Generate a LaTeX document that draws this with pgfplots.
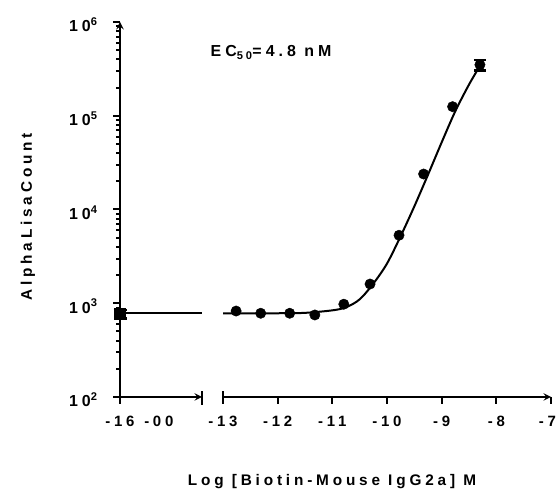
\documentclass[border=0pt]{standalone}
\usepackage{fontspec}
\setmainfont{Liberation Sans}[LetterSpace=25]
\usepackage{pgfplots}
\usepackage{pgfplotstable}
\pgfplotsset{compat=1.18}

% measured points (log M, counts)
\pgfplotstableread{
x y
-12.76 826
-12.31 782
-11.78 782
-11.32 750
-10.79 977
-10.31 1603
-9.78 5310
-9.33 23900
-8.80 125000
}\pts

% fitted curve
\pgfplotstableread{
x y
-13.00 780
-12.50 780
-12.00 782
-11.50 790
-11.00 840
-10.75 905
-10.50 1100
-10.25 1620
-10.00 2650
-9.75 5200
-9.50 10800
-9.25 23500
-9.00 52000
-8.75 112000
-8.50 215000
-8.30 340000
}\fit

\begin{document}
\begin{tikzpicture}
\useasboundingbox (0bp,0bp) rectangle (557bp,489bp);
\pgfplotsset{
  every axis/.append style={
    scale only axis, ymode=log, ymin=100, ymax=1e6, height=375bp,
    axis line style={line width=2.2bp,-},
    every tick/.style={line width=2bp,black},
    major tick length=7bp, minor tick length=4bp,
    clip=false,
  }
}
% left (control) segment
\begin{axis}[
  at={(120bp,92bp)}, anchor=south west, width=82bp,
  xmin=-16, xmax=-14.5,
  axis x line=bottom, axis y line=left, tick align=outside,
  xtick={-16}, xticklabels={-16},
  extra x ticks={-15.29}, extra x tick labels={-00},
  extra x tick style={tick style={draw=none}},
  xticklabel style={font=\bfseries\fontsize{15}{17}\selectfont, yshift=-9bp},
  ytick={1e2,1e3,1e4,1e5,1e6},
  yticklabels={10\textsuperscript{2},10\textsuperscript{3},10\textsuperscript{4},10\textsuperscript{5},10\textsuperscript{6}},
  yticklabel style={font=\bfseries\fontsize{16}{18}\selectfont, xshift=-12bp, yshift=-3bp},
]
\addplot[line width=2bp] coordinates {(-16,780) (-14.5,780)};
\addplot[only marks, mark=square*, mark size=5.5bp,
  error bars/.cd, y dir=both, y explicit, error bar style={line width=2bp},
  error mark options={rotate=90, mark size=6.5bp, line width=2.5bp}]
  coordinates {(-16,770) +- (0,80)};
\draw[line width=2bp] (axis cs:-14.5,100) ++(0bp,-8bp) -- ++(0bp,14bp);
\end{axis}
% right (titration) segment
\begin{axis}[
  at={(223bp,92bp)}, anchor=south west, width=328bp,
  xmin=-13, xmax=-7,
  axis x line=bottom, axis y line=none, tick align=outside,
  xtick={-13,-12,-11,-10,-9,-8,-7},
  xticklabels={-13,-12,-11,-10,-9,-8,\hspace*{-7bp}-7},
  xticklabel style={font=\bfseries\fontsize{15}{17}\selectfont, yshift=-9bp},
  ytick=\empty,
]
\addplot[line width=2bp, smooth] table[x=x,y=y]{\fit};
\addplot[only marks, mark=*, mark size=5.2bp] table[x=x,y=y]{\pts};
\addplot[only marks, mark=*, mark size=5.2bp,
  error bars/.cd, y dir=both, y explicit, error bar style={line width=2bp},
  error mark options={rotate=90, mark size=6bp, line width=2.5bp}]
  coordinates {(-8.30,350000) +- (0,45000)};
\draw[line width=2bp] (axis cs:-13,100) ++(0bp,-7bp) -- ++(0bp,13bp);
\end{axis}
\node[font=\bfseries\fontsize{15.4}{17}\selectfont, anchor=base] at (332bp,4bp) {Log [Biotin-Mouse IgG2a] M};
\node[font=\bfseries\fontsize{15.4}{17}\selectfont, rotate=90] at (28bp,272bp) {AlphaLisaCount};
\node[font=\bfseries\fontsize{16}{18}\selectfont, anchor=base] at (271bp,432bp) {EC\textsubscript{50}=4.8 nM};
\end{tikzpicture}
\end{document}
